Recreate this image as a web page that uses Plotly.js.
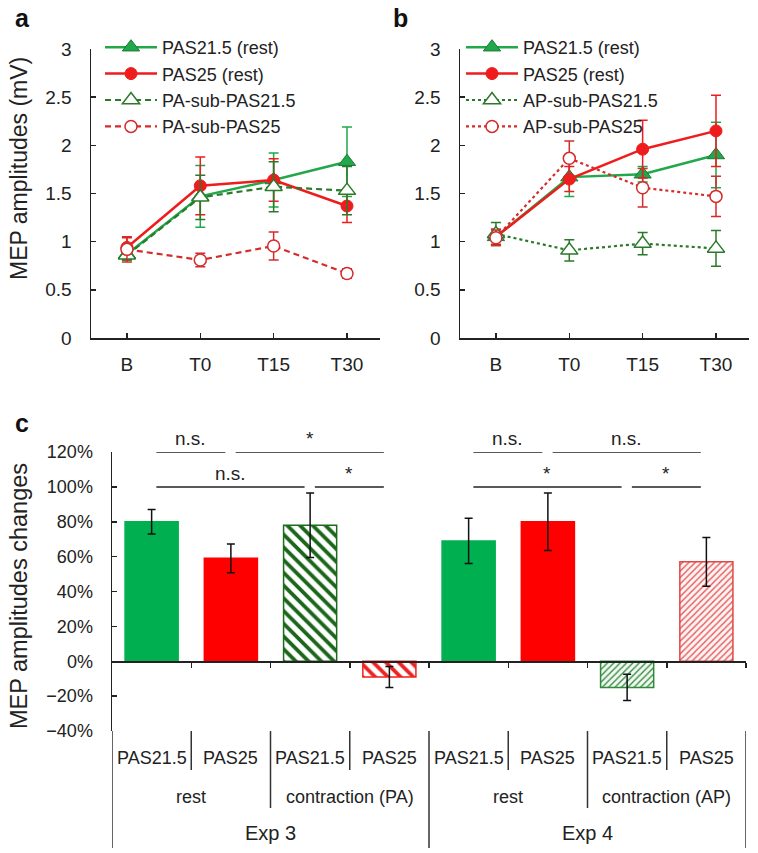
<!DOCTYPE html>
<html>
<head>
<meta charset="utf-8">
<script src="https://cdn.plot.ly/plotly-3.0.1.min.js"></script>
<style>html,body{margin:0;padding:0;background:#fff;}#chart{width:758px;height:853px;}</style>
</head>
<body>
<div id="chart"></div>
<script>
// ---------- DATA ----------
const timePoints = ['B', 'T0', 'T15', 'T30'];

// Panel a (Exp 3)
const a_rest215 = [0.87, 1.47, 1.64, 1.83];
const a_rest215Err = [0.06, 0.32, 0.28, 0.36];
const a_rest25 = [0.94, 1.58, 1.64, 1.37];
const a_rest25Err = [0.10, 0.30, 0.22, 0.17];
const a_sub215 = [0.86, 1.46, 1.57, 1.53];
const a_sub215Err = [0.05, 0.23, 0.26, 0.25];
const a_sub25 = [0.92, 0.81, 0.955, 0.67];
const a_sub25Err = [0.13, 0.07, 0.145, 0.05];

// Panel b (Exp 4)
const b_rest215 = [1.05, 1.67, 1.70, 1.90];
const b_rest215Err = [0.08, 0.20, 0.08, 0.34];
const b_rest25 = [1.05, 1.65, 1.96, 2.15];
const b_rest25Err = [0.08, 0.13, 0.30, 0.37];
const b_sub215 = [1.08, 0.91, 0.98, 0.93];
const b_sub215Err = [0.12, 0.11, 0.115, 0.185];
const b_sub25 = [1.04, 1.865, 1.56, 1.47];
const b_sub25Err = [0.08, 0.18, 0.20, 0.21];

// Panel c
const barLabels = ['PAS21.5', 'PAS25', 'PAS21.5', 'PAS25', 'PAS21.5', 'PAS25', 'PAS21.5', 'PAS25'];
const conditionLabels = ['rest', 'contraction (PA)', 'rest', 'contraction (AP)'];
const expLabels = ['Exp 3', 'Exp 4'];
const barValues = [80, 59, 78, -9, 69, 80, -15, 57];
const barErrors = [7, 8.3, 18.5, 6, 13, 16.5, 7.5, 14];
const sigFrom = [0, 1, 0, 2, 4, 5, 4, 6];
const sigTo = [1, 3, 2, 3, 5, 7, 6, 7];
const sigText = ['n.s.', '*', 'n.s.', '*', 'n.s.', 'n.s.', '*', '*'];
const sigRow = [0, 0, 1, 1, 0, 0, 1, 1];

// ---------- LAYOUT HELPERS ----------
const W = 758, H = 853;
const px = v => v / W;
const py = v => (H - v) / H;
const FONT = 'Arial, "Liberation Sans", Helvetica, sans-serif';

const GREEN = '#22a84a', GREEN_D = '#2a7a2a', RED = '#ee1c1c', RED_D = '#d42b2b';

function lineTrace(y, err, xa, ya, name, color, dash, filled, symbol, legend) {
  return {
    type: 'scatter', mode: 'lines+markers', x: timePoints, y: y, xaxis: xa, yaxis: ya, name: name,
    legend: legend,
    line: {color: color, width: dash === 'solid' ? 2.5 : 2.2, dash: dash},
    marker: {symbol: symbol, size: symbol === 'circle' ? 12 : 15,
             color: filled ? color : '#ffffff',
             line: {color: filled ? (symbol === 'circle' ? color : '#1a7a35') : color, width: filled ? 1 : 1.5}},
    error_y: {type: 'data', array: err, visible: true, color: color, thickness: 1.5, width: 5}
  };
}

const DASH = '6px,4px';
const traces = [
  lineTrace(a_rest215, a_rest215Err, 'x', 'y', 'PAS21.5 (rest)', GREEN, 'solid', true, 'triangle-up', 'legend'),
  lineTrace(a_rest25, a_rest25Err, 'x', 'y', 'PAS25 (rest)', RED, 'solid', true, 'circle', 'legend'),
  lineTrace(a_sub215, a_sub215Err, 'x', 'y', 'PA-sub-PAS21.5', GREEN_D, DASH, false, 'triangle-up', 'legend'),
  lineTrace(a_sub25, a_sub25Err, 'x', 'y', 'PA-sub-PAS25', RED_D, DASH, false, 'circle', 'legend'),
  lineTrace(b_rest215, b_rest215Err, 'x2', 'y2', 'PAS21.5 (rest)', GREEN, 'solid', true, 'triangle-up', 'legend2'),
  lineTrace(b_rest25, b_rest25Err, 'x2', 'y2', 'PAS25 (rest)', RED, 'solid', true, 'circle', 'legend2'),
  lineTrace(b_sub215, b_sub215Err, 'x2', 'y2', 'AP-sub-PAS21.5', GREEN_D, 'dot', false, 'triangle-up', 'legend2'),
  lineTrace(b_sub25, b_sub25Err, 'x2', 'y2', 'AP-sub-PAS25', RED_D, 'dot', false, 'circle', 'legend2')
];

// bars: grouped by fill style
const barStyles = [
  {idx: [0, 4], color: '#00b050', line: '#00b050'},
  {idx: [1, 5], color: '#ff0000', line: '#ff0000'},
  {idx: [2], color: '#ffffff', line: '#1e6b1e', shape: '\\', fg: '#1a661a', size: 9, solidity: 0.42},
  {idx: [3], color: '#ffffff', line: '#ee2222', shape: '\\', fg: '#ee2222', size: 9, solidity: 0.42},
  {idx: [6], color: '#f2f8f2', line: '#2f8a3a', shape: '/', fg: '#3a8f45', size: 4.5, solidity: 0.32},
  {idx: [7], color: '#fff4f4', line: '#e04848', shape: '/', fg: '#e45a5a', size: 4.5, solidity: 0.32}
];
barStyles.forEach(s => {
  const marker = {color: s.color, line: {color: s.line, width: 1.5}};
  if (s.shape) marker.pattern = {shape: s.shape, fgcolor: s.fg, bgcolor: s.color, size: s.size,
    solidity: s.solidity, fillmode: 'replace'};
  traces.push({
    type: 'bar', x: s.idx, y: s.idx.map(i => barValues[i]), xaxis: 'x3', yaxis: 'y3', width: 0.67,
    showlegend: false, hovertext: s.idx.map(i => barLabels[i]), marker: marker,
    error_y: {type: 'data', array: s.idx.map(i => barErrors[i]), visible: true, color: '#111',
      thickness: 1.5, width: 4}
  });
});

// ---------- AXES ----------
const axisCommon = {showgrid: false, zeroline: false, showline: true, linecolor: '#222', linewidth: 1.5,
  tickcolor: '#222', tickwidth: 1.5, ticklen: 5, ticks: 'inside', fixedrange: true};

const yABdomain = [py(338), py(49)];
const tickFontAB = {family: FONT, size: 19, color: '#222'};
const legendFont = {family: FONT, size: 18, color: '#222'};

const layout = {
  width: W, height: H, margin: {l: 0, r: 0, t: 0, b: 0},
  paper_bgcolor: '#fff', plot_bgcolor: 'rgba(0,0,0,0)',
  font: {family: FONT, color: '#222'},
  barmode: 'overlay',
  xaxis: Object.assign({}, axisCommon, {domain: [px(91), px(380)], anchor: 'y', type: 'category',
    range: [-0.49, 3.45], tickfont: tickFontAB, ticklabelstandoff: 9}),
  yaxis: Object.assign({}, axisCommon, {domain: yABdomain, anchor: 'x', range: [0, 3], dtick: 0.5,
    tickfont: tickFontAB, ticklabelstandoff: 14}),
  xaxis2: Object.assign({}, axisCommon, {domain: [px(460), px(749)], anchor: 'y2', type: 'category',
    range: [-0.49, 3.45], tickfont: tickFontAB, ticklabelstandoff: 9}),
  yaxis2: Object.assign({}, axisCommon, {domain: yABdomain, anchor: 'x2', range: [0, 3], dtick: 0.5,
    tickfont: tickFontAB, ticklabelstandoff: 14}),
  xaxis3: Object.assign({}, axisCommon, {domain: [px(112), px(746)], anchor: 'free', position: py(661),
    range: [-0.5, 7.5], tickvals: [0.5, 1.5, 2.5, 3.5, 4.5, 5.5, 6.5, 7.5], ticks: 'outside',
    showticklabels: false}),
  yaxis3: Object.assign({}, axisCommon, {domain: [py(731), py(452)], anchor: 'x3', range: [-40, 120],
    dtick: 20, ticksuffix: '%', tickfont: {family: FONT, size: 18, color: '#222'}, ticklabelstandoff: 14}),
  legend: {x: px(100), y: py(29), xanchor: 'left', yanchor: 'top', bgcolor: 'rgba(0,0,0,0)',
    font: legendFont, tracegroupgap: 0, itemwidth: 52},
  legend2: {x: px(461), y: py(29), xanchor: 'left', yanchor: 'top', bgcolor: 'rgba(0,0,0,0)',
    font: legendFont, tracegroupgap: 0, itemwidth: 52},
  annotations: [],
  shapes: []
};

const ann = layout.annotations, shp = layout.shapes;

// panel letters
[['a', 22, 18], ['b', 400, 18], ['c', 22, 423]].forEach(([t, x, y]) => ann.push({
  text: '<b>' + t + '</b>', xref: 'paper', yref: 'paper', x: px(x), y: py(y), showarrow: false,
  xanchor: 'center', yanchor: 'middle', font: {family: FONT, size: 25, color: '#111'}}));

// y titles
ann.push({text: 'MEP amplitudes (mV)', xref: 'paper', yref: 'paper', x: px(19), y: py(169), textangle: -90,
  showarrow: false, xanchor: 'center', yanchor: 'middle', font: {family: FONT, size: 23, color: '#222'}});
ann.push({text: 'MEP amplitudes changes', xref: 'paper', yref: 'paper', x: px(19), y: py(596), textangle: -90,
  showarrow: false, xanchor: 'center', yanchor: 'middle', font: {family: FONT, size: 23.5, color: '#222'}});

// significance brackets
const rowY = [120, 100];
sigFrom.forEach((f, k) => {
  const t = sigTo[k];
  const x0 = f + 0.06, x1 = t - 0.07;
  const yv = rowY[sigRow[k]];
  shp.push({type: 'line', xref: 'x3', yref: 'y3', x0: x0, x1: x1, y0: yv, y1: yv,
    line: {color: '#222', width: 1.5}});
  ann.push({text: sigText[k], xref: 'x3', yref: 'y3', x: (x0 + x1) / 2, y: yv, yanchor: 'bottom',
    xanchor: 'center', showarrow: false, yshift: 1, font: {family: FONT, size: 19, color: '#222'}});
});

// category table below panel c
const tableTop = py(731);
for (let b = 0; b <= barLabels.length; b++) {
  let bottom;
  if (b % 4 === 0) bottom = py(848);
  else if (b % 2 === 0) bottom = py(808);
  else bottom = py(770);
  shp.push({type: 'line', xref: 'x3', yref: 'paper', x0: b - 0.5, x1: b - 0.5, y0: tableTop, y1: bottom,
    line: {color: '#333', width: 1.5}});
}
barLabels.forEach((t, i) => ann.push({text: t, xref: 'x3', yref: 'paper', x: i, y: py(758),
  showarrow: false, xanchor: 'center', yanchor: 'middle', font: {family: FONT, size: 18, color: '#222'}}));
conditionLabels.forEach((t, i) => ann.push({text: t, xref: 'x3', yref: 'paper', x: 2 * i + 0.5, y: py(797),
  showarrow: false, xanchor: 'center', yanchor: 'middle', font: {family: FONT, size: 18, color: '#222'}}));
expLabels.forEach((t, i) => ann.push({text: t, xref: 'x3', yref: 'paper', x: 4 * i + 1.5, y: py(833),
  showarrow: false, xanchor: 'center', yanchor: 'middle', font: {family: FONT, size: 20, color: '#222'}}));

Plotly.newPlot('chart', traces, layout, {staticPlot: true, displayModeBar: false});
</script>
</body>
</html>
